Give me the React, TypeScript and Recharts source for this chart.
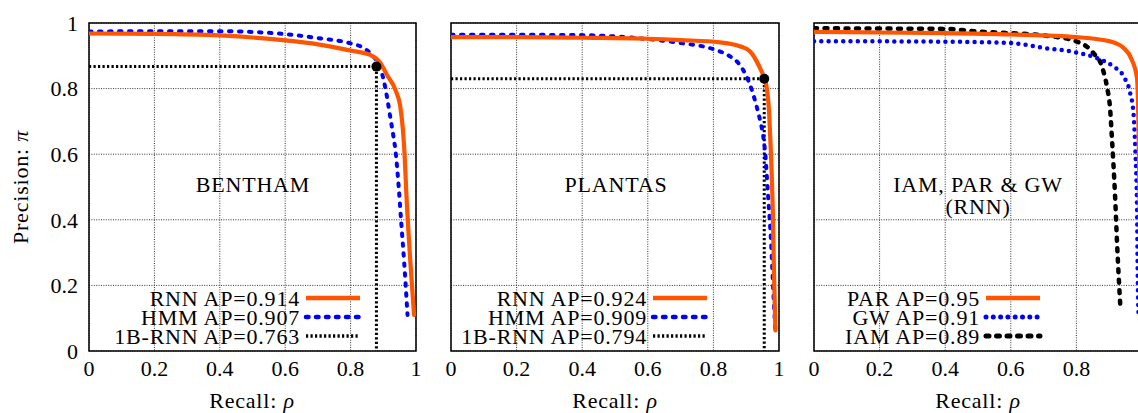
import { LineChart, Line, XAxis, YAxis, CartesianGrid, ReferenceArea, ReferenceDot } from 'recharts';

const FONT = "'Liberation Serif', 'Times New Roman', serif";
const ORANGE = '#ff5500';
const BLUE = '#0000ff';
const TICKS = [0, 0.2, 0.4, 0.6, 0.8, 1];

// BENTHAM
const benRnnR = [0, 0.2, 0.4, 0.6, 0.7, 0.8, 0.86, 0.891, 0.911, 0.937, 0.952, 0.96, 0.965, 0.971, 0.983, 0.994];
const benRnnP = [0.968, 0.967, 0.962, 0.947, 0.935, 0.916, 0.903, 0.878, 0.842, 0.796, 0.745, 0.674, 0.6, 0.47, 0.268, 0.11];
const benHmmR = [0, 0.2, 0.4, 0.6, 0.7, 0.8, 0.84, 0.865, 0.886, 0.901, 0.911, 0.921, 0.931, 0.937, 0.947, 0.955, 0.964, 0.974];
const benHmmP = [0.974, 0.975, 0.975, 0.966, 0.954, 0.938, 0.924, 0.903, 0.873, 0.827, 0.776, 0.715, 0.654, 0.613, 0.501, 0.39, 0.268, 0.11];
const benBestR = [0, 0.879, 0.879];
const benBestP = [0.867, 0.867, 0];
const benLabels = ['RNN AP=0.914', 'HMM AP=0.907', '1B-RNN AP=0.763'];

// PLANTAS
const plaRnnR = [0, 0.2, 0.4, 0.6, 0.7, 0.82, 0.881, 0.912, 0.932, 0.947, 0.955, 0.962, 0.97, 0.975, 0.981, 0.985, 0.989];
const plaRnnP = [0.957, 0.957, 0.955, 0.952, 0.948, 0.941, 0.929, 0.913, 0.883, 0.852, 0.832, 0.806, 0.725, 0.613, 0.43, 0.226, 0.063];
const plaHmmR = [0, 0.2, 0.4, 0.5, 0.6, 0.7, 0.8, 0.851, 0.876, 0.896, 0.917, 0.932, 0.942, 0.952, 0.957, 0.967, 0.976, 0.983, 0.989];
const plaHmmP = [0.964, 0.964, 0.963, 0.959, 0.951, 0.939, 0.92, 0.898, 0.878, 0.847, 0.796, 0.745, 0.705, 0.654, 0.613, 0.47, 0.328, 0.175, 0.063];
const plaBestR = [0, 0.955, 0.955];
const plaBestP = [0.83, 0.83, 0];
const plaLabels = ['RNN AP=0.924', 'HMM AP=0.909', '1B-RNN AP=0.794'];

// IAM, PAR & GW (RNN)
const parR = [0, 0.2, 0.4, 0.6, 0.8, 0.903, 0.944, 0.969, 0.985, 0.989, 0.993, 0.997];
const parP = [0.973, 0.971, 0.969, 0.965, 0.957, 0.944, 0.924, 0.888, 0.83, 0.705, 0.45, 0.1];
const gwR = [0, 0.2, 0.4, 0.6, 0.7, 0.8, 0.863, 0.913, 0.944, 0.964, 0.974, 0.98, 0.985, 0.987, 0.99];
const gwP = [0.944, 0.944, 0.943, 0.939, 0.924, 0.91, 0.893, 0.867, 0.837, 0.786, 0.725, 0.604, 0.43, 0.226, 0.1];
const iamR = [0, 0.2, 0.4, 0.497, 0.6, 0.7, 0.8, 0.852, 0.878, 0.893, 0.903, 0.908, 0.918, 0.924, 0.929, 0.934];
const iamP = [0.984, 0.983, 0.982, 0.974, 0.969, 0.962, 0.944, 0.908, 0.867, 0.806, 0.735, 0.654, 0.47, 0.328, 0.226, 0.134];
const rnnLabels = ['PAR AP=0.95', 'GW AP=0.91', 'IAM AP=0.89'];

const pts = (r: number[], p: number[]) => r.map((x, i) => ({ r: x, p: p[i] }));

type Style = { color: string; width: number; dash?: string; cap?: 'round' | 'butt' };
const sRnn: Style = { color: ORANGE, width: 4.2 };
const sHmm: Style = { color: BLUE, width: 4, dash: '2.5 7.5', cap: 'round' };
const sBest: Style = { color: '#000', width: 3, dash: '2.2 2.3', cap: 'butt' };
const sGw: Style = { color: BLUE, width: 4.5, dash: '0 7.3', cap: 'round' };
const sIam: Style = { color: '#000', width: 4.5, dash: '3 7.5', cap: 'round' };

type Series = { data: { r: number; p: number }[]; style: Style; curve?: 'monotone' | 'linear' };

function Panel(props: {
  left: number; width: number; mLeft: number; mRight: number; showY: boolean; lastTick: boolean;
  series: Series[]; dot?: { r: number; p: number };
}) {
  const { left, width, mLeft, mRight, showY, lastTick, series, dot } = props;
  const tick = { fill: '#000', fontSize: 22, fontFamily: FONT };
  return (
    <div style={{ position: 'absolute', left, top: 0 }}>
      <LineChart width={width} height={413} margin={{ top: 23, right: mRight, bottom: 0, left: mLeft }}>
        <CartesianGrid stroke="#333" strokeDasharray="1 1.4" strokeWidth={1} />
        <XAxis dataKey="r" type="number" domain={[0, 1]} ticks={lastTick ? TICKS : TICKS.slice(0, -1)} interval={0} height={62}
          axisLine={false} tickLine={false} tickSize={0} tickMargin={9} tick={tick} allowDataOverflow />
        <YAxis type="number" domain={[0, 1]} ticks={TICKS} interval={0} hide={!showY} width={showY ? 89 : 0}
          axisLine={false} tickLine={false} tickSize={0} tickMargin={11} tick={tick} allowDataOverflow />
        {series.map((s, i) => (
          <Line key={i} data={s.data} dataKey="p" type={s.curve ?? 'monotone'} stroke={s.style.color}
            strokeWidth={s.style.width} strokeDasharray={s.style.dash} strokeLinecap={s.style.cap ?? 'round'}
            strokeLinejoin="round" dot={false} activeDot={false} isAnimationActive={false} />
        ))}
        {dot && <ReferenceDot x={dot.r} y={dot.p} r={5} fill="#000" stroke="none" ifOverflow="visible" />}
        <ReferenceArea x1={0} x2={1} y1={0} y2={1} fill="none" stroke="#000" strokeWidth={1.5} ifOverflow="visible" />
      </LineChart>
    </div>
  );
}

function LegendBlock({ right, labels, styles }: { right: number; labels: string[]; styles: Style[] }) {
  return (
    <g>
      {labels.map((label, i) => {
        const y = 298 + i * 19;
        const st = styles[i];
        return (
          <g key={label}>
            <text x={right} y={y + 7.5} textAnchor="end" fontFamily={FONT} fontSize={22} letterSpacing={0.8} fill="#000">{label}</text>
            <line x1={right + 6} x2={right + 60} y1={y} y2={y} stroke={st.color} strokeWidth={st.width + 0.5}
              strokeDasharray={st.dash} strokeLinecap={st.cap ?? 'butt'} />
          </g>
        );
      })}
    </g>
  );
}

export default function App() {
  const txt = { fontFamily: FONT, fontSize: 22, fill: '#000', letterSpacing: 0.8 } as const;
  return (
    <div style={{ position: 'absolute', left: 0, top: 0, width: 1138, height: 413, overflow: 'hidden', background: '#fff' }}>
      <Panel left={0} width={430} mLeft={0} mRight={14} showY lastTick
        series={[
          { data: pts(benBestR, benBestP), style: sBest, curve: 'linear' },
          { data: pts(benHmmR, benHmmP), style: sHmm },
          { data: pts(benRnnR, benRnnP), style: sRnn },
        ]}
        dot={{ r: benBestR[1], p: benBestP[1] }} />
      <Panel left={441} width={350} mLeft={10} mRight={12} showY={false} lastTick
        series={[
          { data: pts(plaBestR, plaBestP), style: sBest, curve: 'linear' },
          { data: pts(plaHmmR, plaHmmP), style: sHmm },
          { data: pts(plaRnnR, plaRnnP), style: sRnn },
        ]}
        dot={{ r: plaBestR[1], p: plaBestP[1] }} />
      <Panel left={804} width={350} mLeft={10} mRight={12} showY={false} lastTick={false}
        series={[
          { data: pts(iamR, iamP), style: sIam },
          { data: pts(gwR, gwP), style: sGw },
          { data: pts(parR, parP), style: sRnn },
        ]} />
      <svg width={1138} height={413} style={{ position: 'absolute', left: 0, top: 0, pointerEvents: 'none' }}>
        <text x={253} y={192} textAnchor="middle" {...txt}>BENTHAM</text>
        <text x={616} y={192} textAnchor="middle" {...txt}>PLANTAS</text>
        <text x={978} y={192} textAnchor="middle" {...txt}>IAM, PAR &amp; GW</text>
        <text x={978} y={214} textAnchor="middle" {...txt}>(RNN)</text>
        <LegendBlock right={300} labels={benLabels} styles={[sRnn, sHmm, sBest]} />
        <LegendBlock right={647} labels={plaLabels} styles={[sRnn, sHmm, sBest]} />
        <LegendBlock right={980} labels={rnnLabels} styles={[sRnn, sGw, sIam]} />
        <text x={252} y={408} textAnchor="middle" {...txt}>Recall: <tspan fontStyle="italic">ρ</tspan></text>
        <text x={615} y={408} textAnchor="middle" {...txt}>Recall: <tspan fontStyle="italic">ρ</tspan></text>
        <text x={978} y={408} textAnchor="middle" {...txt}>Recall: <tspan fontStyle="italic">ρ</tspan></text>
        <text x={28} y={187} textAnchor="middle" transform="rotate(-90, 28, 187)" {...txt}>Precision: <tspan fontStyle="italic">π</tspan></text>
      </svg>
    </div>
  );
}
